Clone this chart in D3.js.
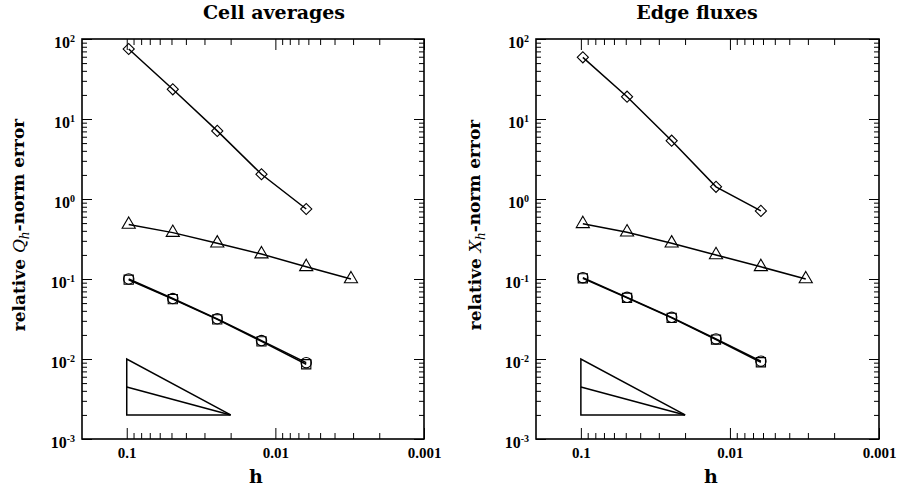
<!DOCTYPE html>
<html>
<head>
<meta charset="utf-8">
<script src="https://cdn.jsdelivr.net/npm/d3@7"></script>
<style>
  body { margin: 0; background: #fff; }
  svg { display: block; }
</style>
</head>
<body>
<div id="chart"></div>
<script>
// mesh sizes (shared by both panels)
var hValues = [0.097, 0.049, 0.0246, 0.0124, 0.0062, 0.0031];

// left panel: cell averages
var cellDiamond  = [75, 23.5, 7.1, 2.04, 0.75];
var cellTriangle = [0.48, 0.38, 0.28, 0.205, 0.142, 0.1];
var cellCircle   = [0.1, 0.057, 0.0318, 0.0170, 0.0090];
var cellSquare   = [0.098, 0.056, 0.0313, 0.0166, 0.0086];

// right panel: edge fluxes
var edgeDiamond  = [59, 19, 5.36, 1.42, 0.71];
var edgeTriangle = [0.49, 0.385, 0.28, 0.2, 0.142, 0.1];
var edgeCircle   = [0.104, 0.059, 0.0332, 0.0178, 0.0094];
var edgeSquare   = [0.102, 0.058, 0.0327, 0.0175, 0.0091];

// slope reference triangle
var refX = [0.1, 0.02];
var refTop = 0.01;
var refMid = 0.00447;
var refBase = 0.002;

var xMajor = [0.1, 0.01, 0.001];
var xMajorLabels = ["0.1", "0.01", "0.001"];
var yMajor = [1e-3, 1e-2, 1e-1, 1e0, 1e1, 1e2];
var yMajorExp = ["-3", "-2", "-1", "0", "1", "2"];

var svgWidth = 899;
var svgHeight = 493;

var svg = d3.select("#chart")
    .append("svg")
    .attr("width", svgWidth)
    .attr("height", svgHeight);

var panels = [
    { left: 82, right: 424, title: "Cell averages", titleX: 274, letter: "Q", labelX: 25, hX: 256,
      diamond: cellDiamond, triangle: cellTriangle, circle: cellCircle, square: cellSquare },
    { left: 536, right: 879, title: "Edge fluxes", titleX: 697, letter: "X", labelX: 481, hX: 711,
      diamond: edgeDiamond, triangle: edgeTriangle, circle: edgeCircle, square: edgeSquare }
];

var plotTop = 39, plotBottom = 439;
var serif = "'DejaVu Serif', serif";
var tickFont = "'Liberation Serif', 'Times New Roman', serif";

panels.forEach(function (p) {
    var x = d3.scaleLog().domain([0.2, 0.001]).range([p.left, p.right]);
    var y = d3.scaleLog().domain([1e-3, 1e2]).range([plotBottom, plotTop]);

    var g = svg.append("g");

    var xMinor = x.ticks().filter(d => xMajor.indexOf(+d.toPrecision(1)) < 0 && d < 0.15);
    var yMinor = y.ticks().filter(d => yMajor.indexOf(+d.toPrecision(1)) < 0);

    // minor ticks, all four sides, inward
    g.append("g").attr("transform", `translate(0, ${plotBottom})`)
        .call(d3.axisBottom(x).tickValues(xMinor).tickSize(-6).tickFormat(""));
    g.append("g").attr("transform", `translate(0, ${plotTop})`)
        .call(d3.axisTop(x).tickValues(xMinor).tickSize(-6).tickFormat(""));
    g.append("g").attr("transform", `translate(${p.left}, 0)`)
        .call(d3.axisLeft(y).tickValues(yMinor).tickSize(-5).tickFormat(""));
    g.append("g").attr("transform", `translate(${p.right}, 0)`)
        .call(d3.axisRight(y).tickValues(yMinor).tickSize(-5).tickFormat(""));

    // major ticks
    var xb = g.append("g").attr("transform", `translate(0, ${plotBottom})`)
        .call(d3.axisBottom(x).tickValues(xMajor).tickSize(-11).tickPadding(8)
            .tickFormat((d, i) => xMajorLabels[i]));
    g.append("g").attr("transform", `translate(0, ${plotTop})`)
        .call(d3.axisTop(x).tickValues(xMajor).tickSize(-11).tickFormat(""));
    var yl = g.append("g").attr("transform", `translate(${p.left}, 0)`)
        .call(d3.axisLeft(y).tickValues(yMajor).tickSize(-10).tickPadding(10).tickFormat(""));
    g.append("g").attr("transform", `translate(${p.right}, 0)`)
        .call(d3.axisRight(y).tickValues(yMajor).tickSize(-10).tickFormat(""));

    g.selectAll(".domain").remove();
    g.selectAll(".tick line").attr("stroke", "#000").attr("stroke-width", 1);

    xb.selectAll("text")
        .attr("font-family", tickFont)
        .attr("font-weight", "bold")
        .attr("font-size", "15px")
        .attr("fill", "#000");

    yl.selectAll(".tick text").each(function (d, i) {
        var t = d3.select(this)
            .attr("x", -7)
            .attr("dy", "0.5em")
            .attr("font-family", tickFont)
            .attr("font-weight", "bold")
            .attr("font-size", "16px")
            .attr("fill", "#000")
            .attr("text-anchor", "end");
        t.append("tspan").text("10");
        t.append("tspan").attr("dy", "-0.55em").attr("font-size", "10px").text(yMajorExp[i]);
    });

    // frame
    g.append("rect")
        .attr("x", p.left).attr("y", plotTop)
        .attr("width", p.right - p.left).attr("height", plotBottom - plotTop)
        .attr("fill", "none").attr("stroke", "#000").attr("stroke-width", 1.6);

    // reference slopes
    g.append("path")
        .attr("d", `M${x(refX[0])},${y(refTop)}L${x(refX[0])},${y(refBase)}L${x(refX[1])},${y(refBase)}Z`)
        .attr("fill", "none").attr("stroke", "#000").attr("stroke-width", 1.5);
    g.append("line")
        .attr("x1", x(refX[0])).attr("y1", y(refMid))
        .attr("x2", x(refX[1])).attr("y2", y(refBase))
        .attr("stroke", "#000").attr("stroke-width", 1.5);

    var line = d3.line().x((d, i) => x(hValues[i])).y(d => y(d));

    ["diamond", "triangle", "circle", "square"].forEach(function (key) {
        g.append("path")
            .datum(p[key])
            .attr("d", line)
            .attr("fill", "none")
            .attr("stroke", "#000")
            .attr("stroke-width", 1.5);
    });

    var markers = {
        diamond: d3.symbol().type(d3.symbolSquare).size(62),
        triangle: d3.symbol().type(d3.symbolTriangle).size(75),
        circle: d3.symbol().type(d3.symbolCircle).size(85),
        square: d3.symbol().type(d3.symbolSquare).size(85)
    };

    ["diamond", "triangle", "circle", "square"].forEach(function (key) {
        g.selectAll(".m-" + key)
            .data(p[key])
            .enter()
            .append("path")
            .attr("d", markers[key])
            .attr("transform", (d, i) => `translate(${x(hValues[i])}, ${y(d)})` + (key === "diamond" ? " rotate(45)" : ""))
            .attr("fill", "none")
            .attr("stroke", "#000")
            .attr("stroke-width", 1.1);
    });

    // titles and axis labels
    svg.append("text")
        .attr("x", p.titleX).attr("y", 19)
        .attr("text-anchor", "middle")
        .attr("font-family", serif).attr("font-weight", "bold").attr("font-size", "19px")
        .text(p.title);

    svg.append("text")
        .attr("x", p.hX).attr("y", 483)
        .attr("text-anchor", "middle")
        .attr("font-family", serif).attr("font-weight", "bold").attr("font-size", "19px")
        .text("h");

    var lab = svg.append("text")
        .attr("transform", `translate(${p.labelX}, 225) rotate(-90)`)
        .attr("text-anchor", "middle")
        .attr("font-family", serif).attr("font-weight", "bold").attr("font-size", "17px");
    lab.append("tspan").text("relative ");
    lab.append("tspan").attr("font-style", "italic").attr("font-weight", "normal").text(p.letter);
    lab.append("tspan").attr("font-style", "italic").attr("font-weight", "normal")
        .attr("font-size", "12px").attr("dy", "0.3em").text("h");
    lab.append("tspan").attr("dy", "-0.3em").text("-norm error");
});
</script>
</body>
</html>
